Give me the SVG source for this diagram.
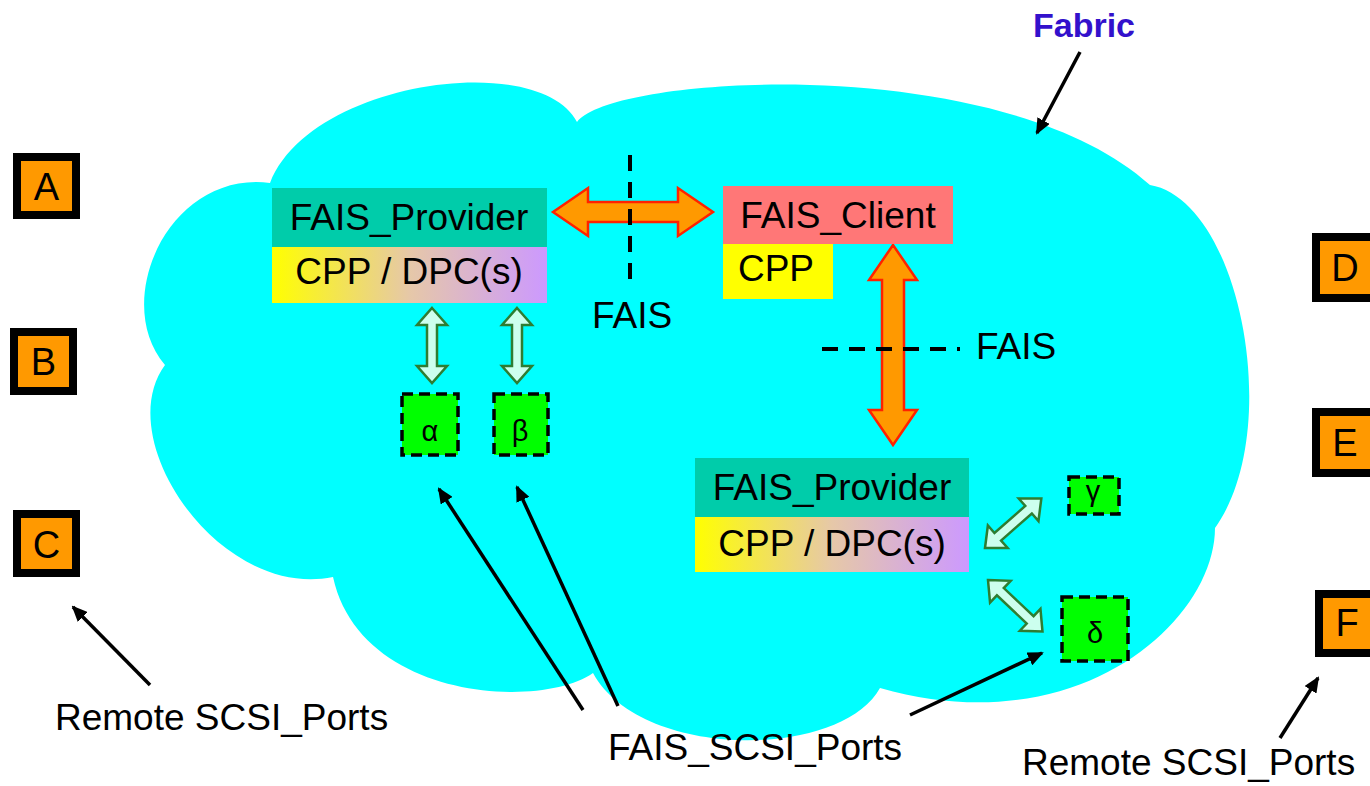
<svg xmlns="http://www.w3.org/2000/svg" width="1370" height="786" viewBox="0 0 1370 786">
<defs>
<style>
text{font-family:"Liberation Sans",Arial,sans-serif;fill:#000}
.lbl{font-size:37px}
.big{font-size:37px;text-anchor:middle}
.letter{font-size:38px;text-anchor:middle}
.greek{font-size:29px;text-anchor:middle}
.port{fill:#FF9900;stroke:#000;stroke-width:8}
.scsi{fill:#00FF00;stroke:#000;stroke-width:3.5;stroke-dasharray:11 6}
.garrow{fill:#CCFFEE;stroke:#2E7D32;stroke-width:2.5;stroke-linejoin:miter}
.oarrow{fill:#FF9900;stroke:#FF2200;stroke-width:2.5}
.dash{stroke:#000;stroke-width:4;stroke-dasharray:16 11;fill:none}
.ptr{stroke:#000;stroke-width:3.5;fill:none;marker-end:url(#ah)}
</style>
<marker id="ah" markerUnits="userSpaceOnUse" markerWidth="16" markerHeight="14" refX="14" refY="7" orient="auto">
<path d="M0,0 L16,7 L0,14 Z" fill="#000"/>
</marker>
<linearGradient id="cppgrad" x1="0" y1="0" x2="1" y2="0">
<stop offset="0" stop-color="#FFFF00"/>
<stop offset="0.5" stop-color="#E6C8A8"/>
<stop offset="1" stop-color="#CC99FF"/>
</linearGradient>
<path id="gdbl" d="M0,0 L17,-15 L17,-5 L58,-5 L58,-15 L75,0 L58,15 L58,5 L17,5 L17,15 Z"/>
</defs>

<g id="fabric-cloud">
<path d="M270,183 C310,80 540,50 577,122 C610,75 1000,50 1150,185 C1240,200 1285,430 1215,528 C1215,620 1080,745 880,688 C840,760 640,760 593,673 C540,710 360,700 333,577 C220,600 110,440 165,365 C110,300 170,170 270,183 Z" fill="#00FFFF"/>
</g>

<g id="connectors">
<path class="oarrow" d="M553,212 L588,188 L588,202 L678,202 L678,188 L713,212 L678,236 L678,222 L588,222 L588,236 Z"/>
<path class="oarrow" d="M893,245 L917,280 L904,280 L904,410 L917,410 L893,445 L869,410 L882,410 L882,280 L869,280 Z"/>
<use href="#gdbl" class="garrow" transform="translate(432,308) rotate(90)"/>
<use href="#gdbl" class="garrow" transform="translate(517,308) rotate(90)"/>
<use href="#gdbl" class="garrow" transform="translate(985,548) rotate(-41.3)"/>
<use href="#gdbl" class="garrow" transform="translate(988,580) rotate(43.4)"/>
<line class="dash" x1="630" y1="155" x2="630" y2="290"/>
<line class="dash" x1="822" y1="349" x2="960" y2="349"/>
<line class="ptr" x1="1080" y1="52" x2="1037" y2="133"/>
<line class="ptr" x1="150" y1="685" x2="73" y2="607"/>
<line class="ptr" x1="1280" y1="738" x2="1318" y2="678"/>
<line class="ptr" x1="583" y1="710" x2="439" y2="489"/>
<line class="ptr" x1="618" y1="706" x2="517" y2="487"/>
<line class="ptr" x1="910" y1="715" x2="1042" y2="653"/>
</g>

<g id="provider-top">
<rect x="272" y="188" width="275" height="59" fill="#00CCAA"/>
<rect x="272" y="247" width="275" height="56" fill="url(#cppgrad)"/>
<text class="big" x="409" y="230">FAIS_Provider</text>
<text class="big" x="409" y="284">CPP / DPC(s)</text>
</g>

<g id="client">
<rect x="723" y="186" width="230" height="58" fill="#FF7777"/>
<rect x="723" y="244" width="110" height="55" fill="#FFFF00"/>
<text class="big" x="838" y="228">FAIS_Client</text>
<text class="big" x="776" y="281">CPP</text>
</g>

<g id="provider-bottom">
<rect x="695" y="458" width="274" height="59" fill="#00CCAA"/>
<rect x="695" y="517" width="274" height="55" fill="url(#cppgrad)"/>
<text class="big" x="832" y="500">FAIS_Provider</text>
<text class="big" x="832" y="556">CPP / DPC(s)</text>
</g>

<g id="fais-label-1"><text class="lbl" x="592" y="328">FAIS</text></g>
<g id="fais-label-2"><text class="lbl" x="976" y="359">FAIS</text></g>

<g id="alpha"><rect class="scsi" x="402" y="394" width="56" height="61"/><text class="greek" x="430" y="441">α</text></g>
<g id="beta"><rect class="scsi" x="494" y="394" width="54" height="61"/><text class="greek" x="520" y="441">β</text></g>
<g id="gamma"><rect class="scsi" x="1069" y="477" width="50" height="37"/><text class="greek" x="1093" y="501">γ</text></g>
<g id="delta"><rect class="scsi" x="1062" y="597" width="66" height="64"/><text class="greek" x="1095" y="643">δ</text></g>

<g id="port-A"><rect class="port" x="17" y="157" width="59" height="58"/><text class="letter" x="46.5" y="200">A</text></g>
<g id="port-B"><rect class="port" x="14" y="332" width="59" height="59"/><text class="letter" x="43.5" y="375">B</text></g>
<g id="port-C"><rect class="port" x="17" y="514" width="59" height="59"/><text class="letter" x="46.5" y="558">C</text></g>
<g id="port-D"><rect class="port" x="1316" y="237" width="60" height="61"/><text class="letter" x="1345" y="281">D</text></g>
<g id="port-E"><rect class="port" x="1316" y="412" width="60" height="61"/><text class="letter" x="1345" y="456">E</text></g>
<g id="port-F"><rect class="port" x="1319" y="594" width="60" height="59"/><text class="letter" x="1347" y="636">F</text></g>

<g id="label-fabric"><text x="1033" y="37" style="font-size:34px;font-weight:bold;fill:#3311CC">Fabric</text></g>
<g id="label-remote-left"><text class="lbl" x="55" y="730">Remote SCSI_Ports</text></g>
<g id="label-remote-right"><text class="lbl" x="1022" y="775">Remote SCSI_Ports</text></g>
<g id="label-fais-scsi"><text class="lbl" x="608" y="760">FAIS_SCSI_Ports</text></g>
</svg>
